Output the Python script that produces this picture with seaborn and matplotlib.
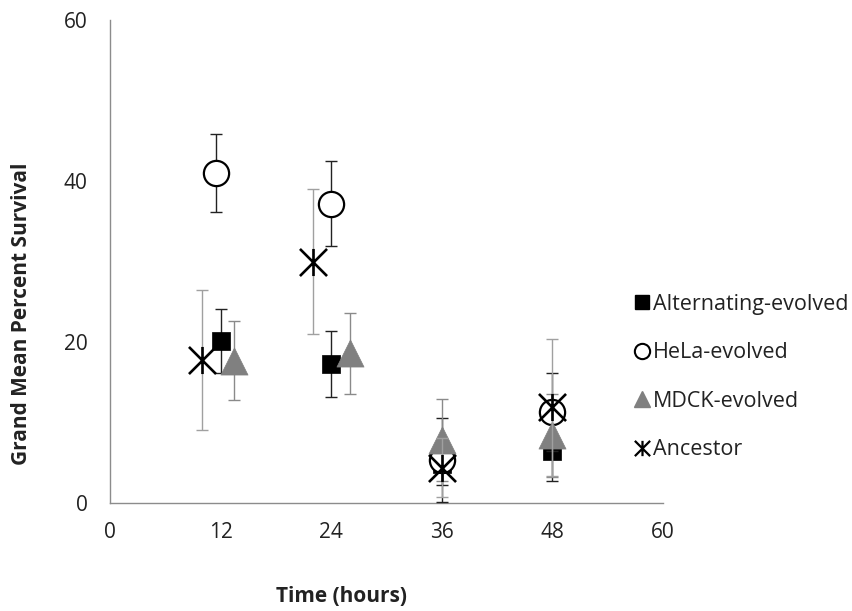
import numpy as np
import pandas as pd
import matplotlib
matplotlib.use("Agg")
import matplotlib.pyplot as plt
from matplotlib.path import Path
from matplotlib.lines import Line2D
import seaborn as sns

# ---- data ----
series_names = ["Alternating-evolved", "HeLa-evolved", "MDCK-evolved", "Ancestor"]
alt_x = [12, 24, 36, 48]
alt_y = [20.1, 17.3, 4.8, 6.5]
alt_err = [4.0, 4.1, 2.6, 3.8]
hela_x = [11.5, 24, 36, 48]
hela_y = [41.0, 37.2, 5.3, 11.3]
hela_err = [4.9, 5.3, 5.2, 4.8]
mdck_x = [13.5, 26, 36, 48]
mdck_y = [17.7, 18.6, 7.8, 8.4]
mdck_err = [4.9, 5.0, 5.1, 5.2]
anc_x = [10, 22, 36, 48]
anc_y = [17.8, 30.0, 4.4, 11.9]
anc_err = [8.7, 9.0, 3.7, 8.5]
x_ticks = [0, 12, 24, 36, 48, 60]
y_ticks = [0, 20, 40, 60]

sns.set_style("white")
plt.rcParams['font.family'] = ['Open Sans', 'DejaVu Sans']

fig = plt.figure(figsize=(8.53, 6.11), dpi=100)
ax = fig.add_axes([110/853, 1-503/611, 553/853, 483/611])

# custom asterisk-like marker (X with vertical bar)
ast_path = Path([(-1, -1), (1, 1), (-1, 1), (1, -1), (0, -1), (0, 1)],
                [Path.MOVETO, Path.LINETO, Path.MOVETO, Path.LINETO, Path.MOVETO, Path.LINETO])

specs = [
    (series_names[0], alt_x, alt_y, alt_err, dict(marker='s', color='black', edgecolor='black', s=150, linewidth=0.5), '#222222'),
    (series_names[1], hela_x, hela_y, hela_err, dict(marker='o', color='white', edgecolor='black', s=330, linewidth=1.6), '#222222'),
    (series_names[2], mdck_x, mdck_y, mdck_err, dict(marker='^', color='#808080', edgecolor='#808080', s=380, linewidth=0.5), '#8a8a8a'),
    (series_names[3], anc_x, anc_y, anc_err, dict(marker=ast_path, color='black', edgecolor='black', s=380, linewidth=1.9), '#a0a0a0'),
]

z = 2
for name, xs, ys, es, mk, ecol in specs:
    df = pd.DataFrame({"x": xs, "y": ys})
    ax.errorbar(xs, ys, yerr=es, fmt='none', ecolor=ecol, elinewidth=1.0,
                capsize=4, capthick=1.0, zorder=z)
    sns.scatterplot(data=df, x="x", y="y", ax=ax, zorder=z + 1, legend=False, **mk)
    z += 2

ax.set_xlim(0, 60)
ax.set_ylim(0, 60)
ax.set_xticks(x_ticks)
ax.set_yticks(y_ticks)
ax.tick_params(axis='both', labelsize=15, colors='#222222', length=6, width=1, color='#8c8c8c', direction='out')
ax.tick_params(axis='x', pad=8)
ax.tick_params(axis='y', pad=10)
for sp in ['top', 'right']:
    ax.spines[sp].set_visible(False)
for sp in ['left', 'bottom']:
    ax.spines[sp].set_color('#8c8c8c')
    ax.spines[sp].set_linewidth(1.0)

ax.set_xlabel("Time (hours)", fontsize=15, fontweight='bold', color='#222222')
ax.set_ylabel("Grand Mean Percent Survival", fontsize=15, fontweight='bold', color='#222222')
ax.xaxis.set_label_coords((342-110)/553, -(586-503)/483)
ax.yaxis.set_label_coords(-(110-32)/553, (503-314)/483)

handles = [
    Line2D([], [], linestyle='none', marker='s', markersize=10, markerfacecolor='black', markeredgecolor='black'),
    Line2D([], [], linestyle='none', marker='o', markersize=11, markerfacecolor='white', markeredgecolor='black', markeredgewidth=1.5),
    Line2D([], [], linestyle='none', marker='^', markersize=12, markerfacecolor='#808080', markeredgecolor='#808080'),
    Line2D([], [], linestyle='none', marker=ast_path, markersize=11, color='black', markeredgewidth=1.6),
]
fig.legend(handles, series_names, loc='upper left', bbox_to_anchor=(620/853, 1-283/611),
           frameon=False, fontsize=15.5, labelspacing=1.28, handletextpad=0.05,
           handlelength=1.0, borderpad=0, labelcolor='#222222')

fig.savefig("out.png", dpi=100)
